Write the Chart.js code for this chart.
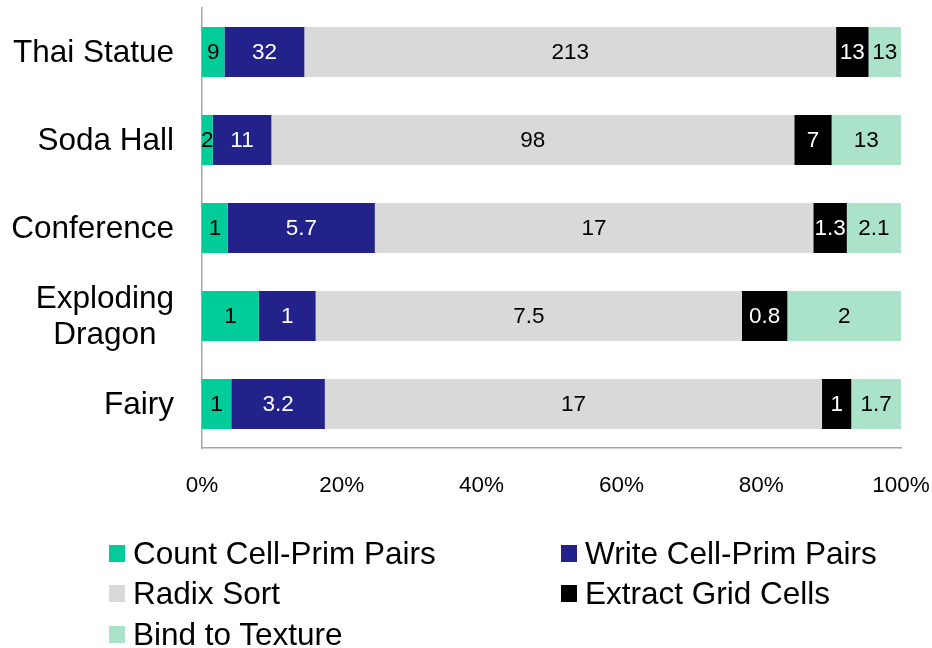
<!DOCTYPE html>
<html>
<head>
<meta charset="utf-8">
<script src="https://cdn.jsdelivr.net/npm/chart.js@4"></script>
<style>
  html, body { margin: 0; padding: 0; background: #fff; }
  #wrap { position: relative; width: 932px; height: 648px; font-family: "Liberation Sans", Arial, sans-serif; }
  #chart { position: absolute; left: 0; top: 0; }
  .leg { position: absolute; height: 40px; line-height: 40px; font-size: 31.5px; color: #000; white-space: nowrap; }
  .leg i { position: absolute; left: 0; top: 12px; width: 16px; height: 17px; }
  .leg span { position: absolute; left: 24px; top: 0; }
</style>
</head>
<body>
<div id="wrap">
  <canvas id="chart" width="932" height="648"></canvas>
  <div id="legend"></div>
</div>
<script>
const categories = ["Thai Statue", "Soda Hall", "Conference", ["Exploding", "Dragon"], "Fairy"];
const seriesNames = ["Count Cell-Prim Pairs", "Write Cell-Prim Pairs", "Radix Sort", "Extract Grid Cells", "Bind to Texture"];
const countPairs = [9, 2, 1, 1, 1];
const writePairs = [32, 11, 5.7, 1, 3.2];
const radixSort = [213, 98, 17, 7.5, 17];
const extractCells = [13, 7, 1.3, 0.8, 1];
const bindTexture = [13, 13, 2.1, 2, 1.7];
const xTicks = [0, 20, 40, 60, 80, 100];

const colors = ["#00CC99", "#22228A", "#D9D9D9", "#000000", "#AAE3C9"];
const labelColors = ["#000", "#fff", "#000", "#fff", "#000"];

const series = [countPairs, writePairs, radixSort, extractCells, bindTexture];
const totals = categories.map((c, i) => series.reduce((s, arr) => s + arr[i], 0));
const FONT = '"Liberation Sans", Arial, sans-serif';

// raw values written in the middle of each segment
const valueLabels = {
    id: 'valueLabels',
    afterDatasetsDraw(chart) {
        const ctx = chart.ctx;
        ctx.save();
        ctx.font = '22.5px ' + FONT;
        ctx.textAlign = 'center';
        ctx.textBaseline = 'middle';
        chart.data.datasets.forEach((ds, di) => {
            const meta = chart.getDatasetMeta(di);
            meta.data.forEach((bar, i) => {
                const p = bar.getProps(['x', 'y', 'base'], true);
                ctx.fillStyle = labelColors[di];
                ctx.fillText(String(series[di][i]), (p.x + p.base) / 2, p.y + 1);
            });
        });
        ctx.restore();
    }
};

// category labels: right aligned block, multi-line ones centred within it
const categoryLabels = {
    id: 'categoryLabels',
    afterDraw(chart) {
        const ctx = chart.ctx;
        const y = chart.scales.y;
        const right = y.right - 28;
        const lh = 36;
        ctx.save();
        ctx.font = '31.5px ' + FONT;
        ctx.fillStyle = '#000';
        ctx.textBaseline = 'middle';
        ctx.textAlign = 'center';
        categories.forEach((lab, i) => {
            const lines = Array.isArray(lab) ? lab : [lab];
            const w = Math.max(...lines.map(l => ctx.measureText(l).width));
            const cx = right - w / 2;
            const cy = y.getPixelForValue(i) + 1;
            lines.forEach((l, k) => {
                ctx.fillText(l, cx, cy + (k - (lines.length - 1) / 2) * lh);
            });
        });
        ctx.restore();
    }
};

new Chart(document.getElementById('chart').getContext('2d'), {
    type: 'bar',
    data: {
        labels: categories,
        datasets: series.map((arr, di) => ({
            label: seriesNames[di],
            data: arr.map((v, i) => v / totals[i] * 100),
            backgroundColor: colors[di],
            borderWidth: 0,
            barPercentage: 0.57,
            categoryPercentage: 1
        }))
    },
    options: {
        indexAxis: 'y',
        responsive: false,
        animation: false,
        layout: { padding: { top: 8, right: 31, left: 0, bottom: 0 } },
        plugins: { legend: { display: false }, tooltip: { enabled: false } },
        scales: {
            x: {
                stacked: true,
                min: 0,
                max: 100,
                afterBuildTicks: (scale) => { scale.ticks = xTicks.map(v => ({ value: v })); },
                afterFit: (scale) => {
                    scale.height = 200;
                    scale.paddingLeft = 0;
                    scale.paddingRight = 0;
                },
                grid: { display: false, drawTicks: false },
                border: { display: true, color: '#A6A6A6', width: 1.5 },
                ticks: {
                    color: '#000',
                    padding: 24,
                    maxRotation: 0,
                    font: { family: FONT, size: 22.5 },
                    callback: (v) => v + '%'
                }
            },
            y: {
                stacked: true,
                afterFit: (scale) => {
                    scale.width = 202;
                    scale.paddingTop = 0;
                    scale.paddingBottom = 0;
                },
                grid: { display: false, drawTicks: false },
                border: { display: true, color: '#A6A6A6', width: 1.5 },
                ticks: { display: false }
            }
        }
    },
    plugins: [valueLabels, categoryLabels]
});

// two-column legend below the chart
const legendPos = [[109, 533], [561, 533], [109, 573], [561, 573], [109, 614]];
const legend = document.getElementById('legend');
seriesNames.forEach((name, i) => {
    const d = document.createElement('div');
    d.className = 'leg';
    d.style.left = legendPos[i][0] + 'px';
    d.style.top = legendPos[i][1] + 'px';
    d.innerHTML = '<i style="background:' + colors[i] + '"></i><span>' + name + '</span>';
    legend.appendChild(d);
});
</script>
</body>
</html>
